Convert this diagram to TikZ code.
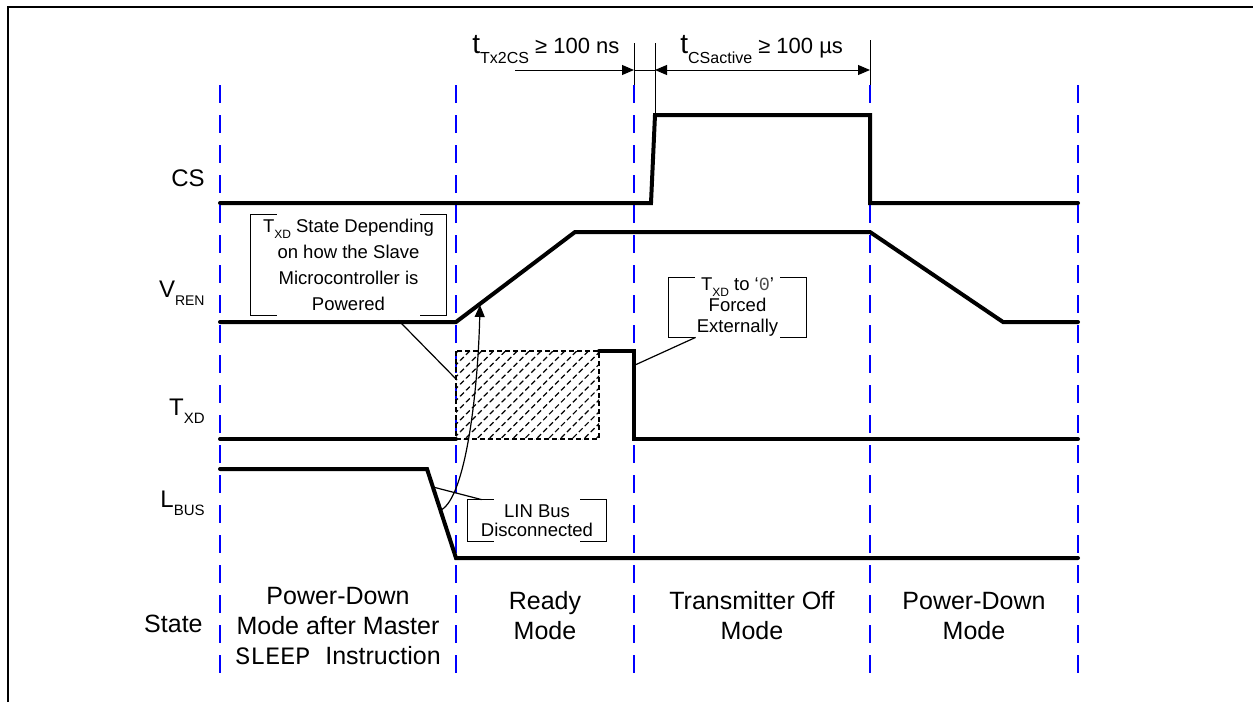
\documentclass[tikz,border=0pt]{standalone}
\usepackage{fontspec}
\setmainfont{Liberation Sans}
\setmonofont{Liberation Mono}
\usetikzlibrary{arrows.meta,patterns.meta}

\newcommand\lsub[3]{\raisebox{-#2}{\fontsize{#1}{#1}\selectfont #3}}
\newcommand\brackets[1]{%
  \draw[callline] ([xshift=13pt]#1.north west) -- (#1.north west) -- (#1.south west) -- ([xshift=13pt]#1.south west);
  \draw[callline] ([xshift=-13pt]#1.north east) -- (#1.north east) -- (#1.south east) -- ([xshift=-13pt]#1.south east);}

\begin{document}
\begin{tikzpicture}[x=0.5pt,y=-0.5pt,
  sig/.style={line width=2pt, line cap=round},
  modeline/.style={blue, line width=1.2pt, dash pattern=on 9pt off 6pt},
  dimline/.style={line width=0.5pt},
  tip/.style={-{Triangle[length=6pt,width=5pt]}},
  leader/.style={line width=0.6pt},
  callline/.style={line width=0.75pt},
  callout/.style={align=center, inner sep=0pt, font=\fontsize{9.25}{13}\selectfont},
  signame/.style={anchor=base east, inner sep=0pt, font=\fontsize{12}{14}\selectfont},
  modename/.style={align=center, inner sep=0pt, font=\fontsize{12.5}{15}\selectfont},
  timing/.style={anchor=base west, inner sep=0pt, font=\fontsize{11}{13}\selectfont}]
	\useasboundingbox (0,0) rectangle (1253,702);
	\draw[line width=1pt] (8,702) -- (8,7) -- (1253,7);

	\foreach \x in {220,456,634,870,1078}
	    \draw[modeline] (\x,85) -- (\x,673);

	\node[signame] (cs) at (205,186) {CS};
	\node[signame] (vren) at (205,297) {V\lsub{7}{4pt}{REN}};
	\node[signame] (txd) at (205,415) {T\lsub{7.5}{4pt}{XD}};
	\node[signame] (lbus) at (205,507) {L\lsub{7.5}{4pt}{BUS}};
	\node[signame, font=\fontsize{12.5}{15}\selectfont] (state) at (203,632) {State};

	\node[modename] (pdsleep) at (338,626) {Power-Down\\Mode after Master\\\texttt{SLEEP }Instruction};
	\node[modename] (ready) at (545,616) {Ready\\Mode};
	\node[modename] (txoff) at (752,616) {Transmitter Off\\Mode};
	\node[modename] (pdown) at (974,616) {Power-Down\\Mode};

	\draw[sig] (220,203) -- (651,203) -- (655,115) -- (870,115) -- (870,203) -- (1078,203);
	\draw[sig] (220,322) -- (456,322) -- (575,232) -- (870,232) -- (1003,322) -- (1078,322);
	\draw[line width=1pt, dash pattern=on 2.5pt off 1.5pt,
	    pattern={Lines[angle=45,distance=4.2pt,line width=0.6pt]}] (456,351) rectangle (599,439);
	\draw[sig] (220,439) -- (456,439);
	\draw[sig] (599,351) -- (634,351) -- (634,439) -- (1078,439);
	\draw[sig] (220,469) -- (427,469) -- (456,558) -- (1078,558);

	\draw[dimline] (634,43) -- (634,85);
	\draw[dimline] (655,43) -- (655,115);
	\draw[dimline] (870,40) -- (870,85);
	\draw[dimline, tip] (515,70) -- (634,70);
	\draw[dimline] (634,70) -- (655,70);
	\draw[dimline, tip] (700,70) -- (655,70);
	\draw[dimline, tip] (700,70) -- (870,70);
	\node[timing] (ttx) at (472,53) {{\fontsize{14}{16}\selectfont t}\lsub{8}{5pt}{Tx2CS} ≥ 100 ns};
	\node[timing] (tcs) at (680,53) {{\fontsize{14}{16}\selectfont t}\lsub{8}{5pt}{CSactive} ≥ 100 µs};

	\node[callout, minimum width=97.5pt, minimum height=50pt] (txstate) at (348.5,265)
	    {T\lsub{6}{3pt}{XD} State Depending\\on how the Slave\\Microcontroller is\\Powered};
	\node[callout, minimum width=68.5pt, minimum height=29.5pt, font=\fontsize{9.25}{10.5}\selectfont] (txforce) at (737.5,307.5)
	    {T\lsub{6}{3pt}{XD} to `{\color{black!70}\texttt{0}}'\\Forced\\Externally};
	\node[callout, minimum width=69pt, minimum height=20.5pt, font=\fontsize{9.25}{9.5}\selectfont] (linbus) at (537,520.5)
	    {LIN Bus\\Disconnected};
	\brackets{txstate}
	\brackets{txforce}
	\brackets{linbus}

	\coordinate (hatchL) at (457,380);
	\coordinate (txfall) at (635,365);
	\coordinate (lbusfall) at (433,487);
	\coordinate (lbusedge) at (441,510);
	\coordinate (vrenramp) at (480,305);
	\path
	([xshift=25pt,yshift=-2.5pt]txstate.south) edge[leader] (hatchL)
	([xshift=13.5pt]txforce.south west) edge[leader] (txfall)
	([xshift=7pt]linbus.north west) edge[leader] (lbusfall)
	;
	\draw[leader, -{Triangle[length=6pt,width=5pt]}] (lbusedge) .. controls (466,497) and (478,390) .. (vrenramp);
\end{tikzpicture}
\end{document}
